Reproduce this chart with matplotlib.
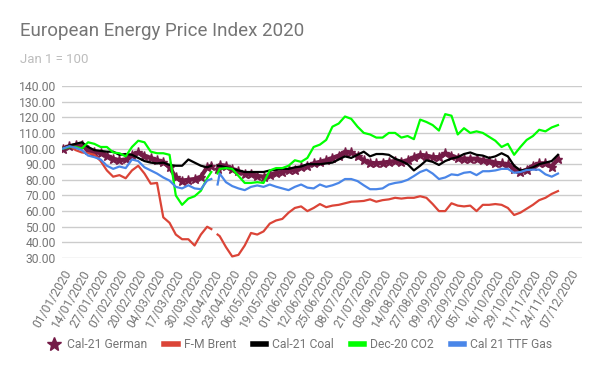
import numpy as np
import matplotlib
matplotlib.use("Agg")
import matplotlib.pyplot as plt
from matplotlib.lines import Line2D

plt.rcParams['font.family'] = ['Roboto', 'DejaVu Sans']

nan = np.nan

# weekday index since 01/01/2020 (markets shut on 72/73 = Easter)
day = list(range(0, 70, 3)) + [71, 72, 74] + list(range(75, 238, 3))

cal21_german = [100, 101.5, 102, 102.5, 99, 98, 97, 95.5, 93.5, 92.5, 93, 96, 97.5, 95.5, 94, 92.5,
                91.5, 88, 81.5, 79.5, 80, 80.5, 82, 88,
                89, nan, 87,
                89.5, 89, 87, 85.5, 84, 83.5, 82.5, 82, 83, 84.5, 85, 86, 86.5, 88, 89, 90.5, 91.5,
                92.5, 94, 95.5, 98, 97.5, 95, 92.5, 91, 90.5, 91, 91.5, 92, 91.5, 92.5, 94.5, 96,
                95.5, 94.5, 94.5, 97, 95.5, 94, 93.5, 93.5, 93.5, 92.5, 92, 91, 90.5, 90, 87, 85,
                86.5, 89, 90.5, 90.5, 88.5, 93.5]
fm_brent = [100, 102, 99, 97.5, 97, 96, 92, 86, 82, 83, 81, 86, 89, 84, 77.5, 78,
            56, 52.5, 45, 42, 42, 38, 45, 50,
            48.5, nan, 45,
            44, 37, 31, 32, 38, 46, 45, 47, 52, 54, 55, 59, 62, 63, 60, 62, 64.5, 62.5, 63.5, 64,
            65, 66, 66.2, 66.5, 67.5, 66, 67, 67.5, 68.5, 68, 68.5, 68.5, 69.5, 68.5, 64.5, 60,
            60, 65, 63.5, 63, 63.5, 60, 64, 64, 64.5, 64, 62, 57.5, 59, 61.5, 64, 67, 68.5, 71, 72.8]
cal21_coal = [100, 102, 103, 104, 101, 99, 98.5, 98, 98, 96, 96.5, 96, 94, 92, 91, 90.5,
              91, 89.5, 89, 89, 93, 91, 89, 88,
              89, nan, 89,
              89, 88, 87, 86, 85, 85, 85, 85, 86, 86.5, 87, 87, 88, 88.5, 90, 90, 90, 90.5, 91, 93,
              95, 94, 96, 98, 95, 96.5, 96.5, 96, 93.5, 92, 90, 86, 89, 92.5, 91.5, 89.5, 92, 93.6,
              94.5, 96.5, 97.5, 96, 95.5, 94, 95, 97, 95, 89, 86, 86.5, 88, 90, 91, 92, 96]
dec20_co2 = [100, 101, 101, 100, 104, 103, 101, 101, 97.5, 97, 95, 101, 105, 104, 98, 97,
             97, 96, 70, 64, 68, 69.5, 73, 81,
             85, nan, 84,
             87, 87.5, 87, 82.5, 78, 78, 78.5, 78, 86, 87.5, 87.5, 89, 92.5, 91.5, 94, 101, 102.5,
             105.5, 114, 116, 120.5, 119, 114, 110, 109, 107, 107, 110, 110, 107, 108, 106, 118.5,
             117, 115, 111.5, 122, 121, 109, 113, 110, 111, 110, 107.5, 105, 101, 103, 96, 101,
             105.5, 108, 112, 111, 113.5, 115]
cal21_ttf = [100, 101.5, 100.5, 99, 95.5, 94.5, 93, 89, 87, 88.5, 87.5, 93, 92, 88, 86, 84,
             81.5, 79.5, 75.5, 74.5, 76.5, 74.5, 74, 79.5,
             80.5, nan, 77,
             84, 78.5, 76, 74.5, 73.4, 75.5, 76.4, 75.5, 77, 75.6, 74.5, 73.4, 75.5, 77, 75, 74.5,
             77, 75.5, 76.5, 78, 80.5, 80.5, 79.2, 76.5, 74, 74, 74.5, 77, 78, 78.6, 80, 82.4, 85,
             86.5, 84, 80.5, 81.5, 83.5, 83, 84.5, 85, 83, 85.5, 85.5, 86, 87, 87, 84.5, 85, 86.3,
             86.5, 86.5, 83.5, 82, 84]

tick_labels = ['01/01/2020', '14/01/2020', '27/01/2020', '07/02/2020', '20/02/2020', '04/03/2020',
               '17/03/2020', '30/03/2020', '10/04/2020', '23/04/2020', '06/05/2020', '19/05/2020',
               '01/06/2020', '12/06/2020', '25/06/2020', '08/07/2020', '21/07/2020', '03/08/2020',
               '14/08/2020', '27/08/2020', '09/09/2020', '22/09/2020', '05/10/2020', '16/10/2020',
               '29/10/2020', '11/11/2020', '24/11/2020', '07/12/2020']

grey = '#757575'
purple = '#741b47'
red = '#db4437'
green = '#00ff00'
blue = '#4a86e8'

fig = plt.figure(figsize=(6, 3.71), dpi=100)
ax = fig.add_axes([62 / 600, 1 - 258 / 371, 520 / 600, 172 / 371])

ax.plot(day, cal21_german, color=purple, lw=3, marker='*', ms=6.5, zorder=2)
ax.plot(day, fm_brent, color=red, lw=1.6, zorder=3)
ax.plot(day, cal21_coal, color='black', lw=1.6, zorder=4)
ax.plot(day, dec20_co2, color=green, lw=1.6, zorder=5)
ax.plot(day, cal21_ttf, color=blue, lw=1.6, zorder=6)

ax.set_xlim(-0.5, 248.5)
ax.set_ylim(30, 140)
ax.set_yticks(range(30, 141, 10))
ax.set_yticklabels(['{:.2f}'.format(v) for v in range(30, 141, 10)])
ax.set_xticks(np.arange(len(tick_labels)) * 9)
ax.set_xticklabels(tick_labels, rotation=60, ha='right', va='top', rotation_mode='anchor')

ax.yaxis.grid(True, color='#cccccc', lw=1)
ax.set_axisbelow(True)
for s in ax.spines.values():
    s.set_visible(False)
ax.tick_params(axis='both', length=0, labelcolor=grey, labelsize=8.7)
ax.tick_params(axis='y', pad=4.5)
ax.tick_params(axis='x', pad=7)

fig.text(20 / 600, 1 - 36 / 371, 'European Energy Price Index 2020', fontsize=13.5, color=grey,
         va='baseline')
fig.text(20 / 600, 1 - 63 / 371, 'Jan 1 = 100', fontsize=9.5, color='#bdbdbd', va='baseline')

handles = [
    Line2D([], [], color=purple, marker='*', ms=10, lw=0),
    Line2D([], [], color=red, lw=4),
    Line2D([], [], color='black', lw=4),
    Line2D([], [], color=green, lw=4),
    Line2D([], [], color=blue, lw=4),
]
names = ['Cal-21 German', 'F-M Brent', 'Cal-21 Coal', 'Dec-20 CO2', 'Cal 21 TTF Gas']
leg = fig.legend(handles, names, loc='center', bbox_to_anchor=(0.5, 1 - 345 / 371), ncol=5,
                 frameon=False, fontsize=8.7, handlelength=1.1, handletextpad=0.5,
                 columnspacing=1.4, labelcolor=grey)

fig.savefig('out.png', dpi=100)
